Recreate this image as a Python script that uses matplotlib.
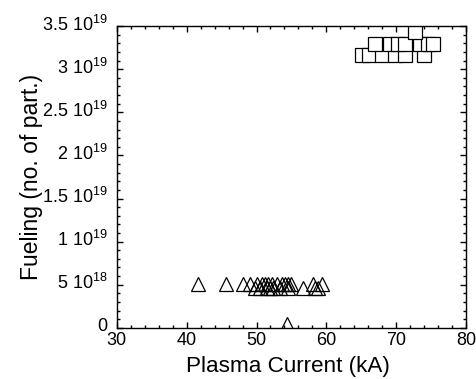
import matplotlib
matplotlib.use("Agg")
import matplotlib.pyplot as plt
from matplotlib.ticker import MultipleLocator, FuncFormatter
from matplotlib.transforms import ScaledTranslation

plt.rcParams['font.family'] = ['Liberation Sans', 'DejaVu Sans']
plt.rcParams['mathtext.fontset'] = 'custom'
plt.rcParams['mathtext.rm'] = 'Liberation Sans'

# Ohmic discharges: plasma current (kA) vs fueling (particles)
tri_current = [41.6, 45.6, 48.1, 49.1, 50.1, 50.8, 51.2, 51.6, 52.2, 52.9,
               53.6, 54.1, 54.5, 55.0, 58.1, 59.4,
               49.8, 50.5, 51.5, 51.9, 52.3, 53.4, 54.5, 56.6, 58.4, 58.8,
               54.3]
tri_fueling = [5.1e18, 5.1e18, 5.1e18, 5.1e18, 5.1e18, 5.1e18, 5.1e18, 5.1e18, 5.1e18, 5.1e18,
               5.1e18, 5.1e18, 5.1e18, 5.1e18, 5.1e18, 5.1e18,
               4.6e18, 4.6e18, 4.6e18, 4.6e18, 4.6e18, 4.6e18, 4.6e18, 4.6e18, 4.6e18, 4.6e18,
               0.4e18]

# High-current discharges
sq_current = [65.1, 66.1, 67.9, 69.8, 71.2, 74.0,
              67.0, 69.1, 70.3, 71.3, 73.4, 74.6, 75.3,
              72.7]
sq_fueling = [3.17e19, 3.17e19, 3.17e19, 3.17e19, 3.17e19, 3.17e19,
              3.29e19, 3.29e19, 3.29e19, 3.29e19, 3.29e19, 3.29e19, 3.29e19,
              3.43e19]

fig = plt.figure(figsize=(4.77, 3.79), dpi=100)
ax = fig.add_axes([0.245, 0.135, 0.732, 0.796])

for x, y in zip(tri_current, tri_fueling):
    ax.plot([x], [y], linestyle='none', marker='^', markersize=9.5,
            markerfacecolor='none', markeredgecolor='black', markeredgewidth=0.9)
for x, y in zip(sq_current, sq_fueling):
    ax.plot([x], [y], linestyle='none', marker='s', markersize=10.5,
            markerfacecolor='white', markeredgecolor='black', markeredgewidth=0.9)

ax.set_xlim(30, 80)
ax.set_ylim(0, 3.5e19)
ax.xaxis.set_major_locator(MultipleLocator(10))
ax.xaxis.set_minor_locator(MultipleLocator(2))
ax.yaxis.set_major_locator(MultipleLocator(5e18))
ax.yaxis.set_minor_locator(MultipleLocator(1e18))


def sci_label(v, pos):
    if v == 0:
        return "0"
    exp = 0
    m = v
    while m >= 10:
        m /= 10
        exp += 1
    m = round(m, 2)
    ms = ("%g" % m)
    return ms + r" 10$^{%d}$" % exp


ax.yaxis.set_major_formatter(FuncFormatter(sci_label))
ax.tick_params(which='both', direction='in', top=True, right=True,
               labelsize=13, width=1.0, colors='black')
ax.tick_params(which='major', length=4.3)
ax.tick_params(which='minor', length=2.4)
ax.tick_params(axis='y', which='major', pad=6.5)
ax.tick_params(axis='x', which='major', pad=3)
for s in ax.spines.values():
    s.set_linewidth(1.0)

ax.set_xlabel("Plasma Current (kA)", fontsize=16.2)
ax.xaxis.set_label_coords(0.49, -0.094)
ax.set_ylabel("Fueling (no. of part.)", fontsize=16.5)
ax.yaxis.set_label_coords(-0.212, 0.5)

fig.canvas.draw()
lift = ScaledTranslation(0, 3.5 / 100, fig.dpi_scale_trans)
for tick in ax.yaxis.get_major_ticks():
    tick.label1.set_transform(tick.label1.get_transform() + lift)

fig.savefig("out.png", dpi=100)
